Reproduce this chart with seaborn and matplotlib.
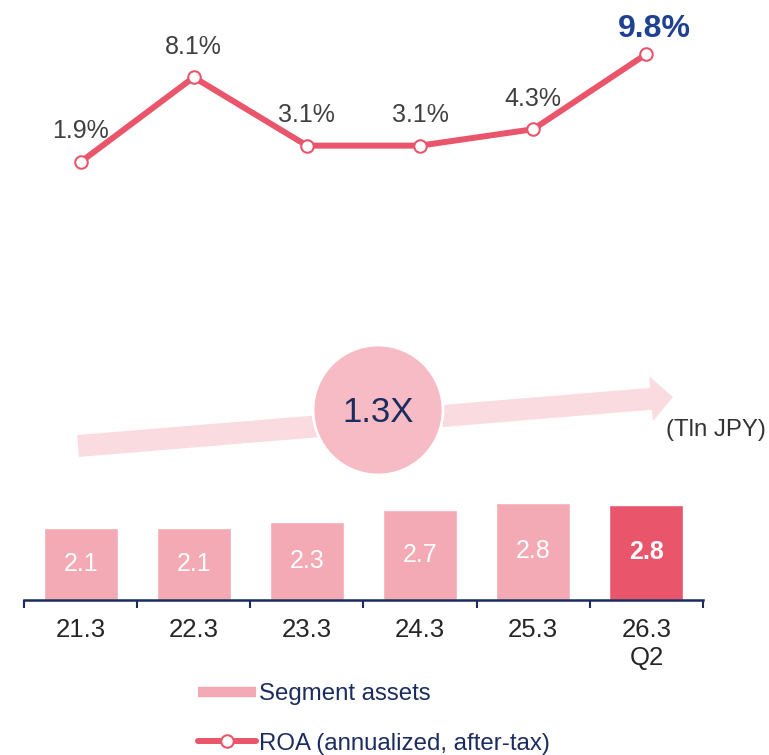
import numpy as np
import pandas as pd
import matplotlib
matplotlib.use("Agg")
import matplotlib.pyplot as plt
import seaborn as sns
from matplotlib import patches
from matplotlib.lines import Line2D

# Datos
periods = ["21.3", "22.3", "23.3", "24.3", "25.3", "26.3\nQ2"]
assets = [2.11, 2.11, 2.29, 2.63, 2.84, 2.78]       # Tln JPY
asset_labels = ["2.1", "2.1", "2.3", "2.7", "2.8", "2.8"]
roa = [1.9, 8.1, 3.1, 3.1, 4.3, 9.8]                # %
roa_labels = ["1.9%", "8.1%", "3.1%", "3.1%", "4.3%", "9.8%"]
growth_label = "1.3X"
unit_label = "(Tln JPY)"
legend_labels = ["Segment assets", "ROA (annualized, after-tax)"]

# Colores
PINK = "#F4AAB4"
RED = "#E9566B"
NAVY = "#1B2C5E"
BLUE = "#1F4194"
GRAY = "#404040"

sns.set_style("white")
plt.rcParams["font.family"] = ["Liberation Sans", "DejaVu Sans"]

df = pd.DataFrame({"period": periods, "assets": assets, "roa": roa})
df["pos"] = np.arange(len(df))

W, H = 769, 755
fig = plt.figure(figsize=(W / 100, H / 100), dpi=100)

# Capa de fondo en coordenadas de píxel (flecha, círculo, unidad)
ov = fig.add_axes([0, 0, 1, 1], zorder=0)
ov.set_xlim(0, W)
ov.set_ylim(H, 0)
ov.axis("off")
ov.add_patch(patches.FancyArrow(78, 446, 595, -49, width=22, head_width=45,
                                head_length=22, length_includes_head=True,
                                color="#FADBE0", lw=0))
ov.add_patch(patches.Circle((378, 410), 65, facecolor="#F6BBC4",
                            edgecolor="white", lw=2))
ov.text(378, 413, growth_label, ha="center", va="center", fontsize=25, color=NAVY)
ov.text(766, 430, unit_label, ha="right", va="center", fontsize=17.3, color="#333333")

# Barras: activos del segmento
ax_bar = fig.add_axes([24 / W, (H - 600) / H, 679 / W, 260 / H], zorder=2)
ax_bar.patch.set_alpha(0)
sns.barplot(data=df, x="period", y="assets", hue="period",
            palette=[PINK] * 5 + [RED], legend=False, width=0.654,
            saturation=1, ax=ax_bar)
ax_bar.set_xlim(-0.5, len(df) - 0.5)
ax_bar.set_ylim(0, 260 / 34.2)
for i, (v, lab) in enumerate(zip(assets, asset_labels)):
    ax_bar.text(i, v / 2, lab, ha="center", va="center", color="white",
                fontsize=18, fontweight="bold" if i == len(df) - 1 else "normal")
sns.despine(ax=ax_bar, left=True, top=True, right=True)
ax_bar.spines["bottom"].set_color(NAVY)
ax_bar.spines["bottom"].set_linewidth(1.8)
ax_bar.set_yticks([])
ax_bar.set_xlabel("")
ax_bar.set_ylabel("")
ax_bar.set_xticks(df["pos"], periods)
ax_bar.tick_params(axis="x", which="major", bottom=True, length=0, pad=13,
                   labelsize=18.5, labelcolor="#262626")
ax_bar.set_xticks(np.arange(-0.5, len(df)), minor=True)
ax_bar.tick_params(axis="x", which="minor", bottom=True, direction="out",
                   length=6, width=1.5, color=NAVY)

# Línea: ROA
ax_line = fig.add_axes([24 / W, (H - 188) / H, 679 / W, 178 / H], zorder=3)
ax_line.patch.set_alpha(0)
sns.lineplot(data=df, x="pos", y="roa", color=RED, lw=4.3, marker="o",
             markersize=9, markerfacecolor="white", markeredgecolor=RED,
             markeredgewidth=1.5, ax=ax_line)
ax_line.set_xlim(-0.5, len(df) - 0.5)
ax_line.set_ylim(0, 178 / 13.67)
for i, (v, lab) in enumerate(zip(roa, roa_labels)):
    if i == len(df) - 1:
        ax_line.annotate(lab, (i, v), xytext=(6, 18), textcoords="offset points",
                         ha="center", va="center", fontsize=23,
                         fontweight="bold", color=BLUE)
    else:
        ax_line.annotate(lab, (i, v), xytext=(0, 22), textcoords="offset points",
                         ha="center", va="center", fontsize=18, color=GRAY)
ax_line.axis("off")

# Leyenda
handles = [
    Line2D([], [], color=PINK, lw=7.5, solid_capstyle="butt"),
    Line2D([], [], color=RED, lw=4.3, marker="o", markersize=9,
           markerfacecolor="white", markeredgecolor=RED, markeredgewidth=1.5),
]
fig.legend(handles, legend_labels, loc="upper left",
           bbox_to_anchor=(198 / W, 1 - 683 / H), frameon=False,
           fontsize=17.3, labelcolor=NAVY, handlelength=2.4,
           handletextpad=0.15, labelspacing=1.15, borderpad=0, borderaxespad=0)

fig.savefig("out.png", dpi=100)
